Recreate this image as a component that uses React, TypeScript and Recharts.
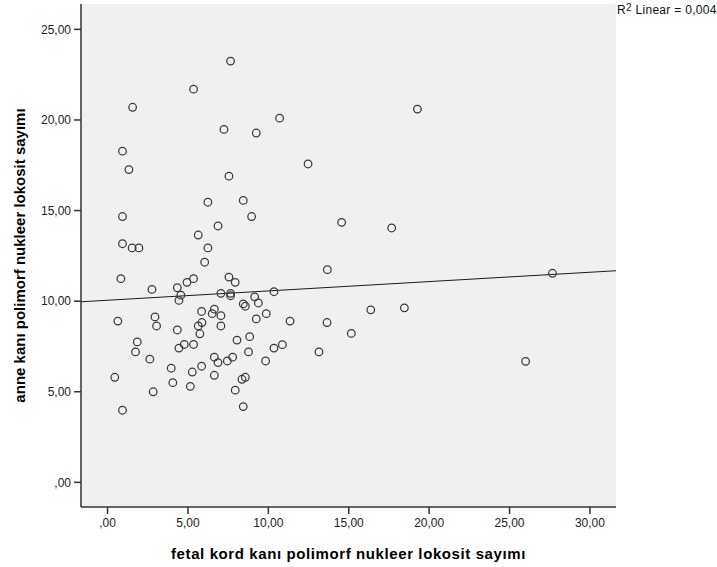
import {
  CartesianGrid,
  Label,
  ReferenceLine,
  Scatter,
  ScatterChart,
  XAxis,
  YAxis,
} from 'recharts'

// fetal cord blood PMN count (x) and maternal blood PMN count (y), one pair per case
const FETAL_PMN = [
  7.65, 5.35, 1.56, 7.24, 9.25, 10.7, 0.93, 1.33, 7.55, 19.27,
  12.47, 6.24, 8.44, 8.96, 0.93, 6.87, 5.64, 0.93, 1.53, 1.95,
  6.24, 6.04, 0.83, 5.35, 4.94, 7.55, 7.94, 2.76, 4.34, 4.56,
  4.44, 7.05, 7.65, 7.65, 10.35, 9.15, 9.38, 8.44, 8.57, 9.87,
  6.64, 6.51, 5.85, 7.05, 2.95, 0.64, 9.25, 3.05, 5.87, 5.64,
  7.05, 4.34, 5.74, 8.84, 8.05, 1.85, 14.56, 17.67, 13.67, 11.35,
  13.65, 16.37, 18.46, 15.16, 10.35, 10.87, 1.74, 4.44, 4.77, 5.35,
  2.63, 3.96, 5.27, 5.85, 6.64, 6.87, 7.45, 7.78, 8.77, 9.83,
  0.45, 4.06, 2.84, 5.15, 6.64, 7.94, 8.36, 8.57, 0.93, 8.44,
  13.15, 27.67, 26.0,
]

const MATERNAL_PMN = [
  23.25, 21.7, 20.7, 19.48, 19.28, 20.1, 18.28, 17.26, 16.9, 20.6,
  17.57, 15.46, 15.56, 14.67, 14.67, 14.15, 13.65, 13.17, 12.94, 12.94,
  12.94, 12.15, 11.24, 11.24, 11.04, 11.33, 11.04, 10.65, 10.74, 10.33,
  10.04, 10.43, 10.43, 10.3, 10.52, 10.24, 9.9, 9.85, 9.72, 9.31,
  9.56, 9.31, 9.43, 9.2, 9.13, 8.9, 9.02, 8.63, 8.82, 8.63,
  8.63, 8.41, 8.2, 8.04, 7.85, 7.75, 14.35, 14.04, 11.74, 8.9,
  8.82, 9.52, 9.63, 8.22, 7.41, 7.6, 7.2, 7.41, 7.61, 7.61,
  6.8, 6.3, 6.09, 6.41, 6.91, 6.61, 6.7, 6.91, 7.2, 6.7,
  5.8, 5.5, 5.0, 5.3, 5.91, 5.09, 5.69, 5.8, 3.98, 4.18,
  7.2, 11.54, 6.68,
]

const X_TICKS = [0, 5, 10, 15, 20, 25, 30]
const Y_TICKS = [0, 5, 10, 15, 20, 25]

// linear fit line, R² Linear = 0,004
const FIT_INTERCEPT = 10.05
const FIT_SLOPE = 0.0515
const R_SQUARED = '0,004'

const X_MIN = -1.65
const X_MAX = 31.62
const Y_MIN = -1.36
const Y_MAX = 26.4

const X_TITLE = 'fetal kord kanı polimorf nukleer lokosit sayımı'
const Y_TITLE = 'anne kanı polimorf nukleer lokosit sayımı'

const FONT = '"Liberation Sans", Arial, sans-serif'
const DARK = '#333333'
const FRAME = '#8c8c8c'

const points = FETAL_PMN.map((x, i) => ({ x, y: MATERNAL_PMN[i] }))

// SPSS style: ",00", "5,00", "25,00"
const formatTick = (v: number) =>
  v.toFixed(2).replace('.', ',').replace(/^0,/, ',')

function OpenCircle(props: { cx?: number; cy?: number }) {
  const { cx, cy } = props
  if (cx == null || cy == null) return null
  return (
    <circle
      cx={cx}
      cy={cy}
      r={3.8}
      fill="none"
      stroke="#3a3a3a"
      strokeWidth={1.25}
    />
  )
}

const tickStyle = { fontSize: 12, fill: '#222', fontFamily: FONT }
const titleStyle = {
  fontSize: 15,
  fontWeight: 'bold',
  fill: '#000',
  fontFamily: FONT,
  textAnchor: 'middle' as const,
}

export default function App() {
  return (
    <div
      style={{
        position: 'absolute',
        left: 0,
        top: 0,
        width: 717,
        height: 567,
        background: '#fff',
      }}
    >
      <ScatterChart
        width={717}
        height={567}
        margin={{ top: 4, right: 101, bottom: 0, left: 0 }}
      >
        <CartesianGrid
          horizontal={false}
          vertical={false}
          fill="#f0f0f0"
          fillOpacity={1}
        />
        <XAxis
          dataKey="x"
          type="number"
          domain={[X_MIN, X_MAX]}
          allowDataOverflow
          ticks={X_TICKS}
          tickFormatter={formatTick}
          height={60}
          tickSize={7}
          tickMargin={4}
          tick={tickStyle}
          axisLine={{ stroke: DARK, strokeWidth: 1.5 }}
          tickLine={{ stroke: DARK, strokeWidth: 1.5 }}
        >
          <Label
            value={X_TITLE}
            position="insideBottom"
            offset={8}
            style={{ ...titleStyle, letterSpacing: 0.6 }}
          />
        </XAxis>
        <YAxis
          dataKey="y"
          type="number"
          domain={[Y_MIN, Y_MAX]}
          allowDataOverflow
          ticks={Y_TICKS}
          tickFormatter={formatTick}
          width={81}
          tickSize={7}
          tickMargin={3}
          tick={tickStyle}
          axisLine={{ stroke: DARK, strokeWidth: 1.5 }}
          tickLine={{ stroke: DARK, strokeWidth: 1.5 }}
        >
          <Label
            value={Y_TITLE}
            position="insideLeft"
            angle={-90}
            offset={20}
            style={titleStyle}
          />
        </YAxis>
        {/* grey top and right edges of the frame */}
        <XAxis
          xAxisId="top"
          orientation="top"
          type="number"
          domain={[X_MIN, X_MAX]}
          height={0}
          tick={false}
          tickLine={false}
          axisLine={{ stroke: FRAME, strokeWidth: 2 }}
        />
        <YAxis
          yAxisId="right"
          orientation="right"
          type="number"
          domain={[Y_MIN, Y_MAX]}
          width={0}
          tick={false}
          tickLine={false}
          axisLine={{ stroke: FRAME, strokeWidth: 2 }}
        />
        <Scatter
          data={points}
          shape={<OpenCircle />}
          isAnimationActive={false}
        />
        <ReferenceLine
          segment={[
            { x: X_MIN, y: FIT_INTERCEPT + FIT_SLOPE * X_MIN },
            { x: X_MAX, y: FIT_INTERCEPT + FIT_SLOPE * X_MAX },
          ]}
          stroke="#1a1a1a"
          strokeWidth={1}
          ifOverflow="visible"
        />
      </ScatterChart>
      <div
        style={{
          position: 'absolute',
          left: 617,
          top: 3,
          fontFamily: FONT,
          fontSize: 12,
          letterSpacing: 0.3,
          color: '#111',
          whiteSpace: 'nowrap',
          lineHeight: '15px',
        }}
      >
        R<sup style={{ fontSize: 10, verticalAlign: 'top', lineHeight: '10px' }}>2</sup>{' '}
        Linear = {R_SQUARED}
      </div>
    </div>
  )
}
